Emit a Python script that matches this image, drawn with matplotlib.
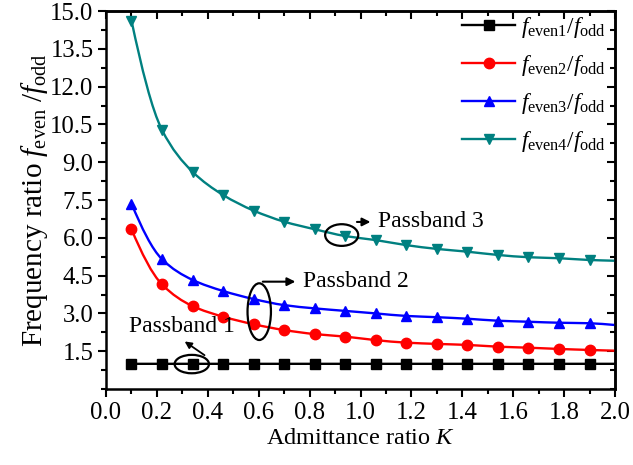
import matplotlib
matplotlib.use("Agg")
import matplotlib.pyplot as plt
import numpy as np
from matplotlib.patches import Ellipse, PathPatch
from matplotlib.path import Path
from matplotlib.lines import Line2D
from matplotlib.ticker import MultipleLocator, FormatStrFormatter

plt.rcParams['font.family'] = ['Liberation Serif', 'DejaVu Serif']
plt.rcParams['mathtext.fontset'] = 'custom'
plt.rcParams['mathtext.rm'] = 'Liberation Serif'
plt.rcParams['mathtext.it'] = 'Liberation Serif:italic'
plt.rcParams['mathtext.bf'] = 'Liberation Serif:bold'

# K values: markers at 0.1..1.9, curve continues to 2.0
K = [0.10, 0.22, 0.34, 0.46, 0.58, 0.70, 0.82, 0.94, 1.06, 1.18,
     1.30, 1.42, 1.54, 1.66, 1.78, 1.90, 2.00]
ratio1 = [1.00] * 17
ratio2 = [6.34, 4.15, 3.29, 2.87, 2.57, 2.34, 2.18, 2.08, 1.94, 1.84,
          1.79, 1.75, 1.68, 1.64, 1.59, 1.55, 1.52]
ratio3 = [7.36, 5.15, 4.33, 3.89, 3.57, 3.33, 3.20, 3.10, 3.00, 2.90,
          2.85, 2.79, 2.71, 2.67, 2.63, 2.61, 2.54]
ratio4 = [14.62, 10.28, 8.62, 7.70, 7.08, 6.64, 6.34, 6.07, 5.91, 5.71,
          5.56, 5.45, 5.32, 5.23, 5.19, 5.12, 5.09]

labels = [r'$f_{\mathrm{even1}}/f_{\mathrm{odd}}$',
          r'$f_{\mathrm{even2}}/f_{\mathrm{odd}}$',
          r'$f_{\mathrm{even3}}/f_{\mathrm{odd}}$',
          r'$f_{\mathrm{even4}}/f_{\mathrm{odd}}$']
colors = ['#000000', '#FF0000', '#0000FF', '#008080']
markers = ['s', 'o', '^', 'v']
series = [ratio1, ratio2, ratio3, ratio4]


def smooth_path(x, y):
    """Cubic Bezier path through the data points (monotone tangents)."""
    x = np.asarray(x, float)
    y = np.asarray(y, float)
    h = np.diff(x)
    d = np.diff(y) / h
    m = np.zeros_like(y)
    m[0] = d[0] - (d[1] - d[0]) * h[0] / (h[0] + h[1])
    m[-1] = d[-1]
    for i in range(1, len(y) - 1):
        if d[i - 1] * d[i] <= 0:
            m[i] = 0.0
        else:
            w1 = 2 * h[i] + h[i - 1]
            w2 = h[i] + 2 * h[i - 1]
            m[i] = (w1 + w2) / (w1 / d[i - 1] + w2 / d[i])
    verts = [(x[0], y[0])]
    codes = [Path.MOVETO]
    for i in range(len(x) - 1):
        verts += [(x[i] + h[i] / 3, y[i] + m[i] * h[i] / 3),
                  (x[i + 1] - h[i] / 3, y[i + 1] - m[i + 1] * h[i] / 3),
                  (x[i + 1], y[i + 1])]
        codes += [Path.CURVE4] * 3
    return Path(verts, codes)


fig = plt.figure(figsize=(6.33, 4.65), dpi=100)
ax = fig.add_axes([0.1675, 0.1634, 0.8041, 0.8129])

handles = []
for y, c, m, lab in zip(series, colors, markers, labels):
    ax.add_patch(PathPatch(smooth_path(K, y), facecolor='none', edgecolor=c,
                           lw=1.7, zorder=2))
    ax.plot(K[:16], y[:16], color=c, marker=m, markersize=7.5,
            linestyle='none', zorder=3)
    handles.append(Line2D([], [], color=c, marker=m, markersize=7.5,
                          linewidth=1.7, label=lab))

ax.set_xlim(0, 2.0)
ax.set_ylim(0, 15.0)
yt = [1.5, 3.0, 4.5, 6.0, 7.5, 9.0, 10.5, 12.0, 13.5, 15.0]
ax.set_xticks([0.0, 0.2, 0.4, 0.6, 0.8, 1.0, 1.2, 1.4, 1.6, 1.8, 2.0])
ax.set_yticks(yt)
ax.xaxis.set_minor_locator(MultipleLocator(0.1))
ax.yaxis.set_minor_locator(MultipleLocator(0.75))
ax.xaxis.set_major_formatter(FormatStrFormatter('%.1f'))
ax.yaxis.set_major_formatter(FormatStrFormatter('%.1f'))
ax.tick_params(which='both', direction='out', width=1.5, labelsize=17.8, pad=3)
ax.tick_params(which='major', length=6)
ax.tick_params(which='minor', length=3.5)
for s in ax.spines.values():
    s.set_linewidth(1.8)

top = ax.secondary_xaxis('top')
top.set_xticks(ax.get_xticks())
top.xaxis.set_minor_locator(MultipleLocator(0.1))
top.tick_params(which='both', direction='in', width=1.5, labeltop=False)
top.tick_params(which='major', length=6)
top.tick_params(which='minor', length=3.5)
top.spines['top'].set_linewidth(1.8)
right = ax.secondary_yaxis('right')
right.set_yticks(yt)
right.yaxis.set_minor_locator(MultipleLocator(0.75))
right.tick_params(which='both', direction='in', width=1.5, labelright=False)
right.tick_params(which='major', length=6)
right.tick_params(which='minor', length=3.5)
right.spines['right'].set_linewidth(1.8)

ax.set_xlabel(r'Admittance ratio $K$', fontsize=17.5, labelpad=3)
ax.set_ylabel(r'Frequency ratio $f_{\mathrm{even}}$ /$f_{\mathrm{odd}}$',
              fontsize=21, labelpad=0)

ax.legend(handles=handles, loc='upper right', bbox_to_anchor=(0.982, 0.99),
          frameon=False, fontsize=16.7, handlelength=2.3, handletextpad=0.25,
          labelspacing=0.56, borderaxespad=0.0, borderpad=0.0)

# annotations
ax.add_patch(Ellipse((0.926, 6.11), 0.13, 0.86, fill=False, lw=1.6, color='black', zorder=4))
ax.annotate('', xy=(1.05, 6.63), xytext=(0.975, 6.63),
            arrowprops=dict(arrowstyle='-|>', color='black', lw=1.5, mutation_scale=12))
ax.text(1.07, 6.63, 'Passband 3', fontsize=17, va='center', ha='left')

ax.add_patch(Ellipse((0.602, 3.07), 0.092, 2.25, fill=False, lw=1.6, color='black', zorder=4))
ax.annotate('', xy=(0.755, 4.26), xytext=(0.605, 4.26),
            arrowprops=dict(arrowstyle='-|>', color='black', lw=1.5, mutation_scale=12))
ax.text(0.774, 4.26, 'Passband 2', fontsize=17, va='center', ha='left')

ax.add_patch(Ellipse((0.337, 0.99), 0.135, 0.73, fill=False, lw=1.6, color='black', zorder=4))
ax.annotate('', xy=(0.30, 1.95), xytext=(0.396, 1.28),
            arrowprops=dict(arrowstyle='-|>', color='black', lw=1.3, mutation_scale=10))
ax.text(0.092, 2.47, 'Passband 1', fontsize=17, va='center', ha='left')

fig.savefig('out.png', dpi=100)
